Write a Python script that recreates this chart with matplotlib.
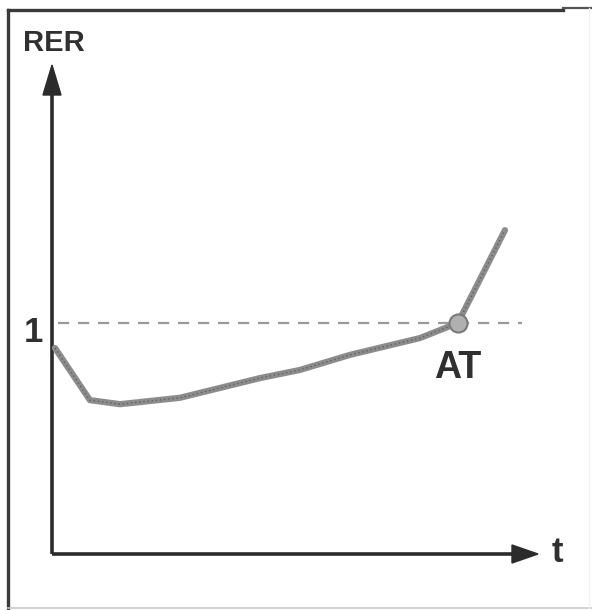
import matplotlib
matplotlib.use("Agg")
import matplotlib.pyplot as plt
from matplotlib.lines import Line2D
from matplotlib.patches import Polygon

# Respiratory exchange ratio over time during incremental exercise
time_t = [0.06, 0.78, 1.40, 2.63, 4.28, 5.10, 6.13, 7.57, 8.35, 9.32]
rer = [0.957, 0.867, 0.860, 0.871, 0.905, 0.919, 0.945, 0.974, 1.000, 1.160]
at_time = 8.35
at_rer = 1.0
ref_level = 1.0
ref_span = [0.12, 9.67]

W, H = 592, 610
fig = plt.figure(figsize=(W / 100, H / 100), dpi=100)
fig.patch.set_facecolor("white")


def frame_edge(x0, y0, x1, y1, color, lw):
    fig.add_artist(Line2D([x0 / W, x1 / W], [1 - y0 / H, 1 - y1 / H],
                          transform=fig.transFigure, color=color, lw=lw,
                          solid_capstyle="projecting"))


# outer frame: strong left/top, faint bottom/right
frame_edge(8, 10, 563, 10, "#3a3a3a", 2.4)
frame_edge(563, 8, 592, 8, "#555555", 1.6)
frame_edge(8, 10, 8, 608, "#3a3a3a", 2.4)
frame_edge(8, 608, 592, 608, "#c8c8c8", 1.2)
frame_edge(589, 8, 589, 608, "#f0f0f0", 1.0)

ax = fig.add_axes([52 / W, (610 - 554) / H, (538 - 52) / W, (554 - 65) / H])
ax.set_xlim(0, 10)
ax.set_ylim(0.6017, 1.4448)
ax.axis("off")

axis_col = "#2b2b2b"
# axes lines with arrowheads
ax.plot([0, 0], [0, 0.95], transform=ax.transAxes, color=axis_col,
        lw=2.6, clip_on=False, solid_capstyle="butt")
ax.plot([0, 0.95], [0, 0], transform=ax.transAxes, color=axis_col,
        lw=2.6, clip_on=False, solid_capstyle="butt")
ax.add_patch(Polygon([(0, 1), (-9 / 486, 1 - 30 / 489), (9 / 486, 1 - 30 / 489)],
                     closed=True, transform=ax.transAxes, color=axis_col,
                     clip_on=False))
ax.add_patch(Polygon([(1, 0), (1 - 26 / 486, 9 / 489), (1 - 26 / 486, -9 / 489)],
                     closed=True, transform=ax.transAxes, color=axis_col,
                     clip_on=False))

# reference line at RER = 1
ax.plot(ref_span, [ref_level, ref_level], color="#9a9a9a", lw=1.6,
        dashes=(5, 4), clip_on=False)

# RER curve
ax.plot(time_t, rer, color="#8c8c8c", lw=4.5, solid_joinstyle="round",
        solid_capstyle="round", clip_on=False)
ax.plot(time_t, rer, color="#5e5e5e", lw=1.0, dashes=(1, 2), clip_on=False)

# anaerobic threshold marker
ax.plot([at_time], [at_rer], marker="o", ms=13, mfc="#b0b0b0",
        mec="#7a7a7a", mew=1.5, clip_on=False)

fam = ["Liberation Sans", "DejaVu Sans"]
txt_col = "#303030"
fig.text(54 / W, 1 - 43 / H, "RER", ha="center", va="center",
         fontsize=21, weight="bold", color=txt_col, family=fam)
fig.text(33 / W, 1 - 332 / H, "1", ha="center", va="center",
         fontsize=25, weight="bold", color=txt_col, family=fam)
fig.text(458 / W, 1 - 368 / H, "AT", ha="center", va="center",
         fontsize=27, weight="bold", color=txt_col, family=fam)
fig.text(557 / W, 1 - 553 / H, "t", ha="center", va="center",
         fontsize=25, weight="bold", color=txt_col, family=fam)

fig.savefig("out.png", dpi=100, facecolor="white")
